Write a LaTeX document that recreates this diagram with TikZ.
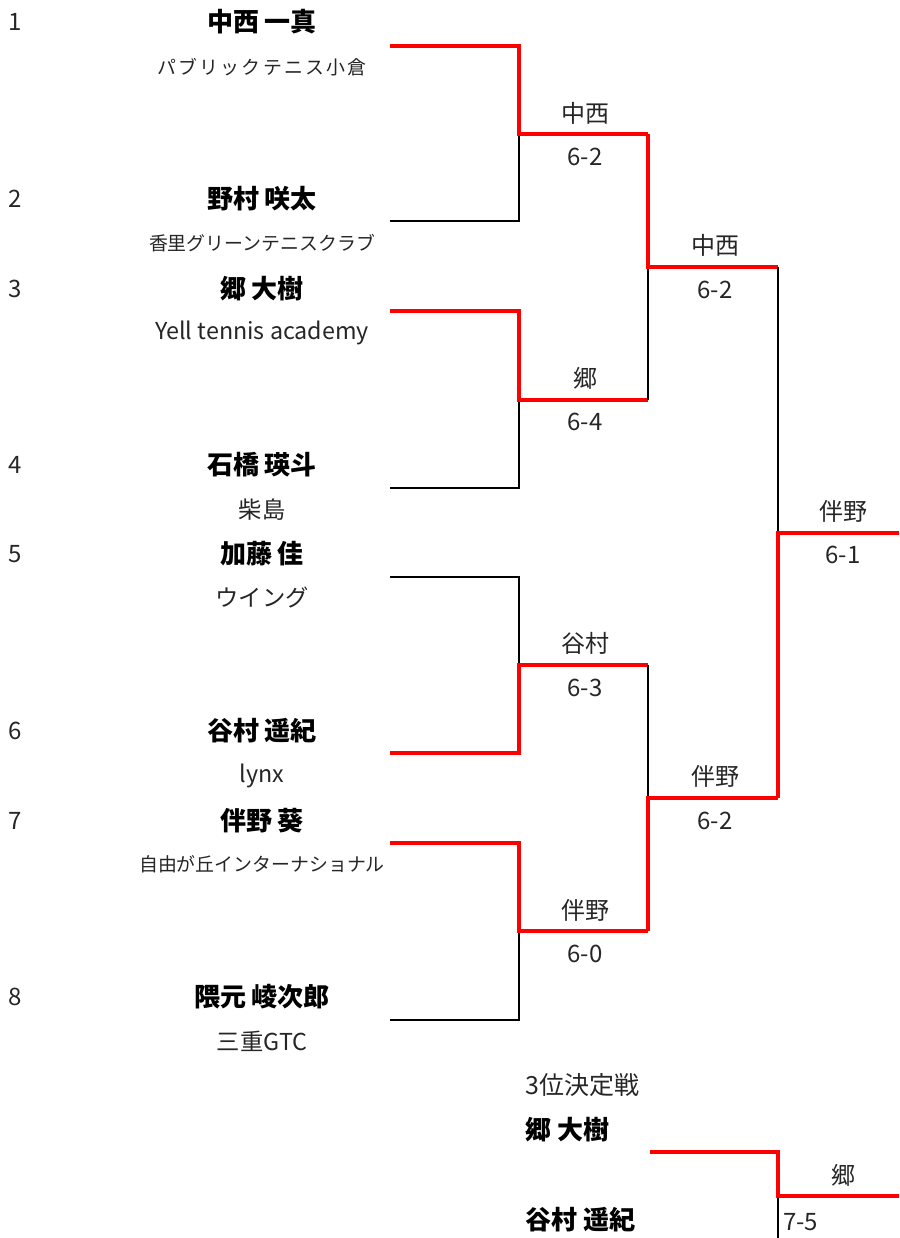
\documentclass[tikz,border=0pt]{standalone}
\usepackage{fontspec}
\setmainfont{Noto Sans CJK JP}
\definecolor{txt}{HTML}{262626}
\definecolor{win}{HTML}{FF0000}
\begin{document}
\begin{tikzpicture}[x=1pt,y=-1pt,
  seed/.style={anchor=west,font=\fontsize{24}{27}\selectfont,text=txt,inner sep=0pt},
  pname/.style={anchor=center,font=\fontsize{26}{29}\selectfont\bfseries,text=black,inner sep=0pt},
  club/.style={anchor=center,font=\fontsize{23.3}{26}\selectfont,text=txt,inner sep=0pt},
  clubs/.style={anchor=center,font=\fontsize{18.9}{22}\selectfont,text=txt,inner sep=0pt},
  lbl/.style={anchor=center,font=\fontsize{24}{27}\selectfont,text=txt,inner sep=0pt},
  lose/.style={draw=black,line width=2.5pt},
  winl/.style={draw=win,line width=3.3pt}]
\useasboundingbox (0,0) rectangle (899,1238);
% seeds
\foreach \n/\y in {1/22,2/199,3/289,4/465,5/554,6/731,7/821,8/997}
  \node[seed] (s\n) at (8,\y) {\n};
% names
\node[pname] (n1) at (262,22) {中西 一真};
\node[clubs] (c1) at (262,67) {\addfontfeature{LetterSpace=12}パブリックテニス小倉};
\node[pname] (n2) at (262,199) {野村 咲太};
\node[clubs] (c2) at (262,243) {香里グリーンテニスクラブ};
\node[pname] (n3) at (262,289) {郷 大樹};
\node[club] (c3) at (262,333) {Yell tennis academy};
\node[pname] (n4) at (262,465) {石橋 瑛斗};
\node[club] (c4) at (262,510) {柴島};
\node[pname] (n5) at (262,554) {加藤 佳};
\node[club] (c5) at (262,598) {ウイング};
\node[pname] (n6) at (262,731) {谷村 遥紀};
\node[club] (c6) at (262,776) {lynx};
\node[pname] (n7) at (262,821) {伴野 葵};
\node[clubs] (c7) at (262,864) {自由が丘インターナショナル};
\node[pname] (n8) at (262,997) {隈元 崚次郎};
\node[club] (c8) at (262,1041) {三重GTC};
% coordinates
\coordinate (p1) at (390,46);  \coordinate (p2) at (390,221);
\coordinate (p3) at (390,311); \coordinate (p4) at (390,488);
\coordinate (p5) at (390,577); \coordinate (p6) at (390,753);
\coordinate (p7) at (390,843); \coordinate (p8) at (390,1020);
% round 1
\draw[lose] (p2) -| (519,134);
\draw[winl] (p1) -| (519,134) -- (648,134);
\draw[lose] (p4) -| (519,400);
\draw[winl] (p3) -| (519,400) -- (648,400);
\draw[lose] (p5) -| (519,665);
\draw[winl] (p6) -| (519,665) -- (648,665);
\draw[lose] (p8) -| (519,931);
\draw[winl] (p7) -| (519,931) -- (648,931);
% round 2
\draw[lose] (648,400) -- (648,267);
\draw[winl] (648,134) -- (648,267) -- (778,267);
\draw[lose] (648,665) -- (648,798);
\draw[winl] (648,931) -- (648,798) -- (778,798);
% final
\draw[lose] (778,267) -- (778,533);
\draw[winl] (778,798) -- (778,533) -- (899,533);
% labels
\node[lbl] (w1) at (585,113) {中西};  \node[lbl] (r1) at (585,157) {6-2};
\node[lbl] (w2) at (585,378) {郷};    \node[lbl] (r2) at (585,422) {6-4};
\node[lbl] (w3) at (585,643) {谷村};  \node[lbl] (r3) at (585,688) {6-3};
\node[lbl] (w4) at (585,910) {伴野};  \node[lbl] (r4) at (585,954) {6-0};
\node[lbl] (w5) at (715,245) {中西};  \node[lbl] (r5) at (715,290) {6-2};
\node[lbl] (w6) at (715,776) {伴野};  \node[lbl] (r6) at (715,821) {6-2};
\node[lbl] (w7) at (843,511) {伴野};  \node[lbl] (r7) at (843,555) {6-1};
% third place
\node[lbl,anchor=west,font=\fontsize{25}{28}\selectfont] (t0) at (525,1085) {3位決定戦};
\node[pname,anchor=west] (t1) at (525,1130) {郷 大樹};
\node[pname,anchor=west] (t2) at (525,1220) {谷村 遥紀};
\draw[lose] (778,1196) -- (778,1240);
\draw[winl] (650,1152) -| (778,1196) -- (899,1196);
\node[lbl] (w8) at (843,1175) {郷};
\node[lbl,anchor=west] (r8) at (783,1222) {7-5};
\end{tikzpicture}
\end{document}
